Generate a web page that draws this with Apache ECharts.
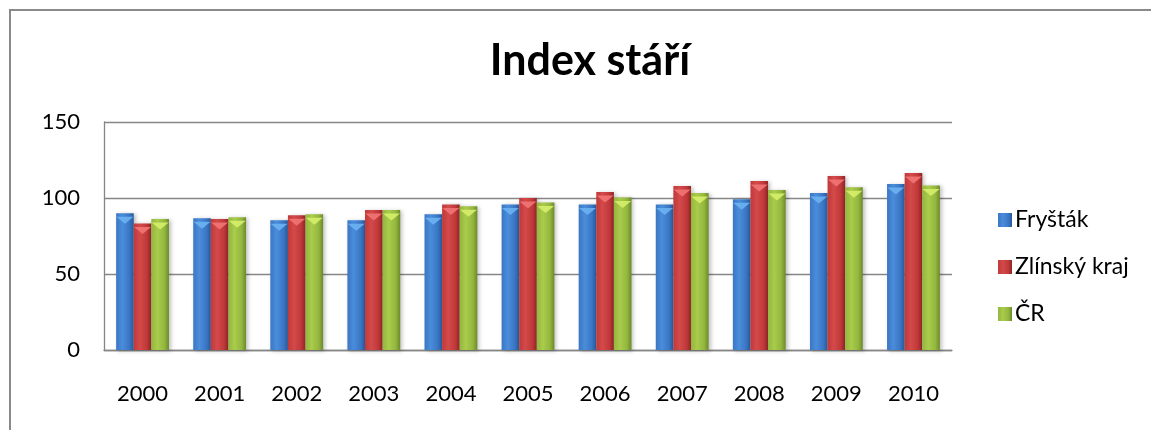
<!DOCTYPE html>
<html>
<head>
<meta charset="utf-8">
<script src="https://cdn.jsdelivr.net/npm/echarts@6/dist/echarts.min.js"></script>
<style>
  html, body { margin: 0; padding: 0; background: #fff; }
  #main { width: 1151px; height: 430px; }
</style>
</head>
<body>
<div id="main"></div>
<script>
var years = ['2000', '2001', '2002', '2003', '2004', '2005', '2006', '2007', '2008', '2009', '2010'];
var frystak = [90, 86.6, 85.3, 85.3, 89.3, 95.8, 95.8, 95.8, 99.1, 103.3, 109.2];
var zlinskyKraj = [83.3, 86.2, 88.6, 92.1, 95.8, 100, 103.9, 107.9, 111.2, 114.5, 116.4];
var cr = [86.2, 87.3, 89.3, 92.1, 94.5, 97.1, 100.4, 103.3, 105.3, 107, 108.3];
var seriesNames = ['Fryšták', 'Zlínský kraj', 'ČR'];

var FONT = 'Lato';

function hGrad(light, mid, dark) {
    return new echarts.graphic.LinearGradient(0, 0, 1, 0, [
        { offset: 0, color: mid },
        { offset: 0.35, color: light },
        { offset: 0.75, color: mid },
        { offset: 1, color: dark }
    ]);
}

// barvy: svetla, stredni, tmava, zkoseni nahore
var palette = [
    { light: '#4a8ddb', mid: '#3a76c4', dark: '#28599a', bevel: '#6cb2f2' },
    { light: '#d44a4a', mid: '#c03839', dark: '#8f2526', bevel: '#f27474' },
    { light: '#a9cc4c', mid: '#93b63e', dark: '#6b8a2a', bevel: '#d6ee6a' }
];
var values = [frystak, zlinskyKraj, cr];

var series = [];
values.forEach(function (vals, i) {
    var p = palette[i];
    series.push({
        name: seriesNames[i],
        type: 'bar',
        barWidth: 17.6,
        barGap: '0%',
        data: vals,
        itemStyle: {
            color: hGrad(p.light, p.mid, p.dark),
            shadowColor: 'rgba(0,0,0,0.25)',
            shadowBlur: 4,
            shadowOffsetX: 2,
            shadowOffsetY: 1
        },
        emphasis: { disabled: true }
    });
});
// trojuhelnikove zkoseni na vrcholu sloupcu
values.forEach(function (vals, i) {
    var p = palette[i];
    series.push({
        name: 'bevel' + i,
        type: 'pictorialBar',
        barWidth: 17.6,
        barGap: '0%',
        symbol: 'path://M0,0 L10,0 L5,10 Z',
        symbolSize: [17, 7],
        symbolPosition: 'end',
        symbolOffset: [0, '50%'],
        data: vals,
        itemStyle: { color: p.bevel, opacity: 0.9 },
        silent: true,
        z: 3
    });
});

var chart = echarts.init(document.getElementById('main'));
chart.setOption({
    backgroundColor: '#fff',
    animation: false,
    title: {
        text: 'Index stáří',
        left: 585,
        top: 35,
        textAlign: 'center',
        textStyle: { fontFamily: FONT, fontWeight: 'bold', fontSize: 43, color: '#000' }
    },
    graphic: [{
        type: 'rect',
        shape: { x: 10, y: 10, width: 1300, height: 600 },
        style: { fill: 'none', stroke: '#8a8a8a', lineWidth: 2 },
        silent: true
    }],
    legend: {
        data: seriesNames,
        orient: 'vertical',
        left: 993,
        top: 203,
        itemWidth: 14,
        itemHeight: 14,
        itemGap: 23,
        icon: 'rect',
        textStyle: { fontFamily: FONT, fontSize: 23, color: '#000', lineHeight: 24, padding: [0, 0, 0, -2] }
    },
    grid: { left: 104, right: 199, top: 122, bottom: 80 },
    xAxis: {
        type: 'category',
        data: years,
        axisLine: { lineStyle: { color: '#868686', width: 1.3 } },
        axisTick: { show: false },
        axisLabel: { fontFamily: FONT, fontSize: 22, color: '#000', margin: 33 }
    },
    yAxis: {
        type: 'value',
        min: 0,
        max: 150,
        interval: 50,
        axisLine: { show: true, lineStyle: { color: '#868686', width: 1.3 } },
        axisTick: { show: false },
        splitLine: { lineStyle: { color: '#868686', width: 1.3 } },
        axisLabel: { fontFamily: FONT, fontSize: 22, color: '#000', margin: 24 }
    },
    series: series
});
</script>
</body>
</html>
